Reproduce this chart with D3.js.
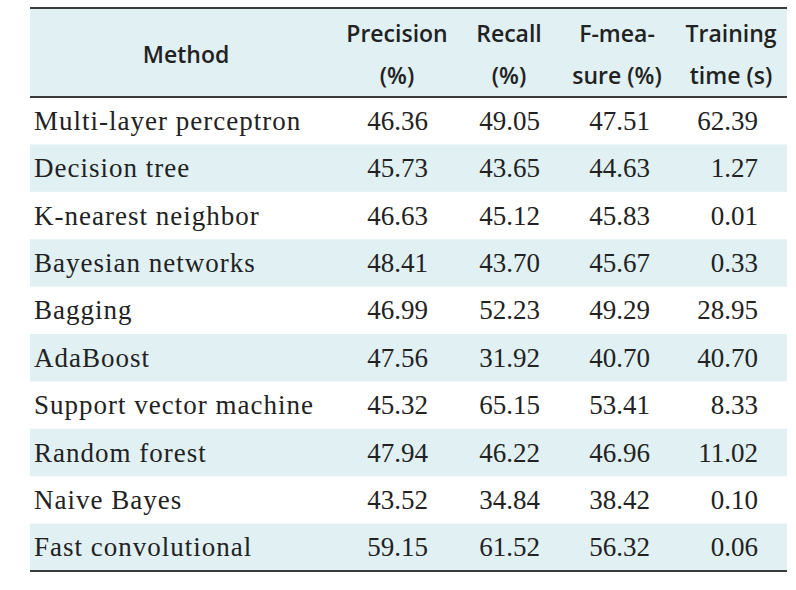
<!DOCTYPE html>
<html>
<head>
<meta charset="utf-8">
<script src="https://cdn.jsdelivr.net/npm/d3@7"></script>
<style>
  body { margin: 0; background: #fff; }
  svg { display: block; }
</style>
</head>
<body>
<div id="containerTable"></div>
<script>
// table values
let methods = ["Multi-layer perceptron", "Decision tree", "K-nearest neighbor", "Bayesian networks",
               "Bagging", "AdaBoost", "Support vector machine", "Random forest", "Naive Bayes", "Fast convolutional"];
let precision = [46.36, 45.73, 46.63, 48.41, 46.99, 47.56, 45.32, 47.94, 43.52, 59.15];
let recall = [49.05, 43.65, 45.12, 43.70, 52.23, 31.92, 65.15, 46.22, 34.84, 61.52];
let fMeasure = [47.51, 44.63, 45.83, 45.67, 49.29, 40.70, 53.41, 46.96, 38.42, 56.32];
let trainingTime = [62.39, 1.27, 0.01, 0.33, 28.95, 40.70, 8.33, 11.02, 0.10, 0.06];
let headerLines = [["Method"], ["Precision", "(%)"], ["Recall", "(%)"], ["F-mea-", "sure (%)"], ["Training", "time (s)"]];

function mainTable() {
    let w = 796, h = 590;
    let left = 30, right = 787;
    let top = 8, headerBottom = 97, bottom = 571;
    let shade = "#e0f0f3";
    let ruleColor = "#3b3b3b";
    let bodyFont = "27px 'Liberation Serif', serif";
    let headFont = "600 23px 'Open Sans', sans-serif";

    // column centres and right edges for numbers
    let colCentres = [null, 397, 509, 617, 731];
    let numRight = [428, 540, 650, 758];

    let svg = d3.select("#containerTable")
                .append("svg")
                .attr("width", w)
                .attr("height", h);

    let y = d3.scaleBand()
              .domain(d3.range(methods.length))
              .range([headerBottom, bottom]);

    // header band
    svg.append("rect")
       .attr("x", left).attr("y", top)
       .attr("width", right - left).attr("height", headerBottom - top)
       .style("fill", shade);

    // shaded body rows (every second row)
    svg.selectAll("rect.row")
       .data(d3.range(methods.length).filter(i => i % 2 == 1))
       .enter().append("rect")
       .attr("class", "row")
       .attr("x", left)
       .attr("y", d => y(d))
       .attr("width", right - left)
       .attr("height", y.bandwidth())
       .style("fill", shade);

    // header texts
    headerLines.forEach(function(lines, c) {
        let cx = c == 0 ? 186 : colCentres[c];
        let baselines = lines.length == 1 ? [63] : [42, 84];
        lines.forEach(function(t, k) {
            svg.append("text")
               .style("font", headFont)
               .style("fill", "#222")
               .attr("text-anchor", "middle")
               .attr("x", cx)
               .attr("y", baselines[k])
               .text(t);
        });
    });

    // method names
    svg.selectAll("text.method")
       .data(methods)
       .enter().append("text")
       .attr("class", "method")
       .style("font", bodyFont)
       .style("letter-spacing", "1px")
       .style("fill", "#222")
       .attr("x", 34)
       .attr("y", (d, i) => y(i) + y.bandwidth() / 2 + 9)
       .text(d => d);

    // numeric columns
    let cols = [precision, recall, fMeasure, trainingTime];
    cols.forEach(function(vals, c) {
        svg.selectAll("text.col" + c)
           .data(vals)
           .enter().append("text")
           .attr("class", "col" + c)
           .style("font", bodyFont)
           .style("fill", "#222")
           .attr("text-anchor", "end")
           .attr("x", numRight[c])
           .attr("y", (d, i) => y(i) + y.bandwidth() / 2 + 9)
           .text(d => d.toFixed(2));
    });

    // rules
    [top, headerBottom, bottom].forEach(function(yy) {
        svg.append("line")
           .attr("x1", left).attr("x2", right)
           .attr("y1", yy).attr("y2", yy)
           .style("stroke", ruleColor)
           .style("stroke-width", 2);
    });
}

mainTable();
</script>
</body>
</html>
